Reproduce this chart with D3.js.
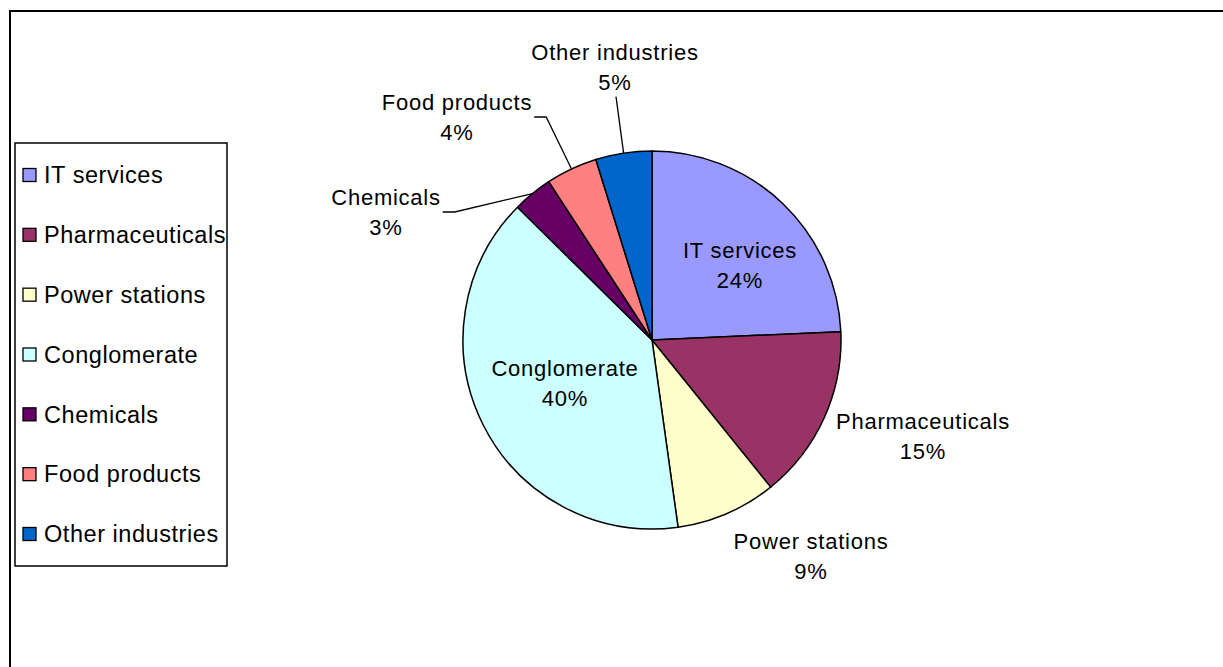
<!DOCTYPE html>
<html>
<head>
<meta charset="utf-8">
<script src="https://cdn.jsdelivr.net/npm/d3@7/dist/d3.min.js"></script>
<style>
  html, body { margin: 0; padding: 0; background: #fff; }
  svg { display: block; font-family: "Liberation Sans", Arial, sans-serif; }
</style>
</head>
<body>
<svg id="chart" width="1223" height="667"></svg>
<script>
// ---- data ----
const categories = ["IT services", "Pharmaceuticals", "Power stations", "Conglomerate", "Chemicals", "Food products", "Other industries"];
const shares = [24.3, 14.9, 8.6, 39.6, 3.4, 4.4, 4.8];
const colors = ["#9999FF", "#993366", "#FFFFCC", "#CCFFFF", "#660066", "#FF8080", "#0066CC"];

// ---- layout ----
const W = 1223, H = 667;
const cx = 652, cy = 340, R = 189;
// label centre offsets relative to pie centre (layout only)
const labelOffsets = [[88, -75], [271, 96], [159, 216], [-87, 43], [-266, -128], [-195, -223], [-37, -273]];
const leaderType = [null, null, null, null, "side", "side", "bottom"];

const svg = d3.select("#chart");

// outer frame
svg.append("rect")
  .attr("x", 10).attr("y", 11).attr("width", W + 40).attr("height", H + 40)
  .attr("fill", "#fff").attr("stroke", "#000").attr("stroke-width", 2);

const data = categories.map((c, i) => ({ name: c, value: shares[i], color: colors[i] }));
const total = d3.sum(shares);
const pct = v => Math.round(v / total * 100) + "%";

const pie = d3.pie().value(d => d.value).sort(null).startAngle(0).endAngle(2 * Math.PI);
const arc = d3.arc().innerRadius(0).outerRadius(R);
const arcs = pie(data);

const g = svg.append("g").attr("transform", `translate(${cx},${cy})`);
g.selectAll("path.slice").data(arcs).enter().append("path")
  .attr("class", "slice")
  .attr("d", arc)
  .attr("fill", d => d.data.color)
  .attr("stroke", "#000")
  .attr("stroke-width", 1.5)
  .attr("stroke-linejoin", "round");

// labels
const fontLbl = 22;
arcs.forEach((a, i) => {
  const [ox, oy] = labelOffsets[i];
  const t = g.append("text")
    .attr("text-anchor", "middle")
    .attr("font-size", fontLbl)
    .attr("letter-spacing", 0.75)
    .attr("fill", "#000");
  t.append("tspan").attr("x", ox).attr("y", oy - 15).attr("dy", "0.35em").text(a.data.name);
  t.append("tspan").attr("x", ox).attr("y", oy + 15).attr("dy", "0.35em").text(pct(a.data.value));

  if (leaderType[i]) {
    const mid = (a.startAngle + a.endAngle) / 2;
    const ax = Math.sin(mid) * R, ay = -Math.cos(mid) * R;
    const bb = t.node().getBBox();
    let pts;
    if (leaderType[i] === "side") {
      const sx = bb.x + bb.width + 2;
      pts = [[sx, oy], [sx + 12, oy], [ax, ay]];
    } else {
      pts = [[ox + 1, bb.y + bb.height + 2], [ax, ay]];
    }
    g.append("path")
      .attr("d", d3.line()(pts))
      .attr("fill", "none")
      .attr("stroke", "#000")
      .attr("stroke-width", 1.3);
  }
});

// legend
const lg = svg.append("g");
lg.append("rect")
  .attr("x", 15).attr("y", 143).attr("width", 212).attr("height", 423)
  .attr("fill", "#fff").attr("stroke", "#000").attr("stroke-width", 1.5);
const rowY = d3.scalePoint().domain(categories).range([175, 534]);
const items = lg.selectAll("g.item").data(data).enter().append("g").attr("class", "item")
  .attr("transform", d => `translate(0,${rowY(d.name)})`);
items.append("rect")
  .attr("x", 23).attr("y", -6.5).attr("width", 13).attr("height", 13)
  .attr("fill", d => d.color).attr("stroke", "#000").attr("stroke-width", 1.3);
items.append("text")
  .attr("x", 44).attr("y", 0).attr("dy", "0.35em")
  .attr("font-size", 23.5)
  .attr("letter-spacing", 0.55)
  .attr("fill", "#000")
  .text(d => d.name);
</script>
</body>
</html>
